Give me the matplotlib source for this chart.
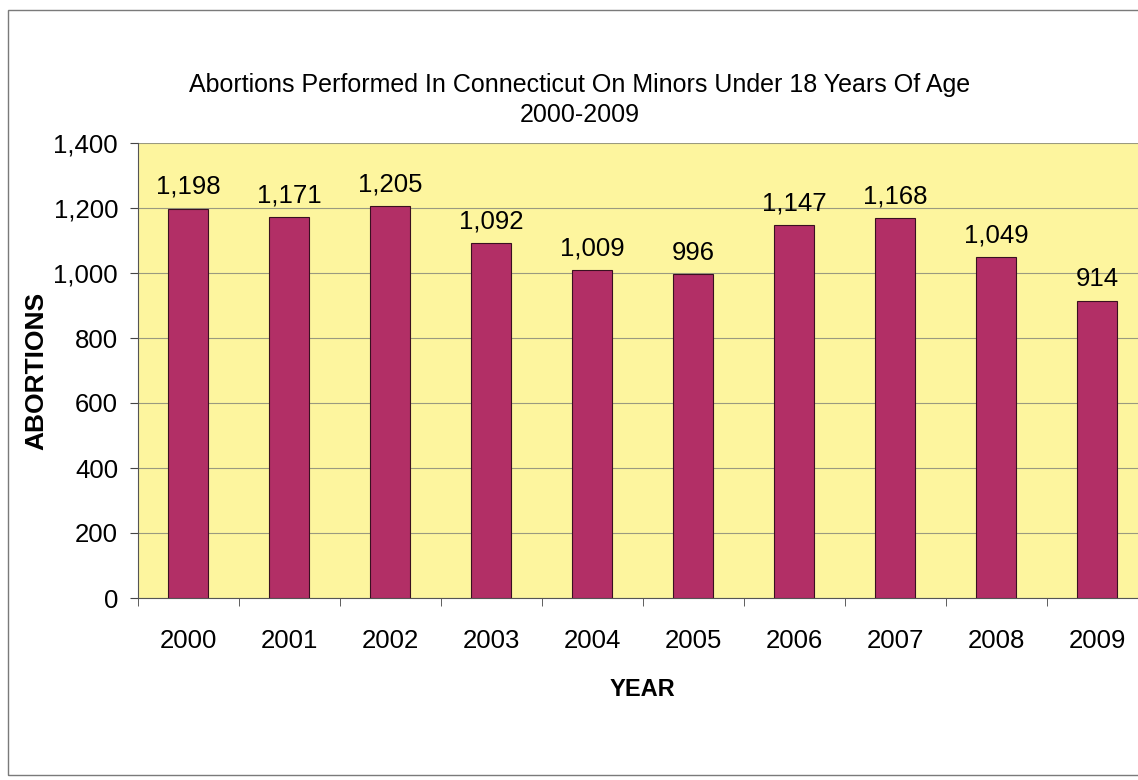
import matplotlib
matplotlib.use("Agg")
from matplotlib import pyplot as plt
from matplotlib.patches import Rectangle

years = ['2000', '2001', '2002', '2003', '2004', '2005', '2006', '2007', '2008', '2009']
abortions = [1198, 1171, 1205, 1092, 1009, 996, 1147, 1168, 1049, 914]
y_ticks = [0, 200, 400, 600, 800, 1000, 1200, 1400]

plt.rcParams['font.family'] = ['Liberation Sans', 'DejaVu Sans']

fig = plt.figure(figsize=(11.38, 7.80), dpi=100)
fig.patch.set_facecolor('white')

# outer frame of the chart object
fig.add_artist(Rectangle((8 / 1138, 5 / 780), 1.2, 765 / 780, transform=fig.transFigure,
                         fill=False, edgecolor='#7a7a7a', linewidth=1.0))

ax = fig.add_axes([137.5 / 1138, 182 / 780, 1010 / 1138, 455 / 780])
ax.set_facecolor('#fdf59e')

x = list(range(len(years)))
bars = ax.bar(x, abortions, width=0.4, color='#b22f66', edgecolor='#3a1020', linewidth=0.8, zorder=3)

for xi, v in zip(x, abortions):
    ax.annotate(f'{v:,}', (xi, v), xytext=(0, 7), textcoords='offset points',
                ha='center', va='bottom', fontsize=18.5)

ax.set_xlim(-0.5, len(years) - 0.5)
ax.set_ylim(0, 1400)
ax.set_yticks(y_ticks)
ax.set_yticklabels([f'{t:,}' for t in y_ticks], fontsize=18.5)
ax.yaxis.grid(True, color='#9a9a80', linewidth=0.8, zorder=1)

ax.set_xticks(x)
ax.set_xticklabels(years, fontsize=18.5)
ax.set_xticks([i - 0.5 for i in range(len(years) + 1)], minor=True)
ax.tick_params(axis='x', which='major', length=0, pad=22)
ax.tick_params(axis='x', which='minor', length=6, color='#444444')
ax.tick_params(axis='y', length=6, color='#444444', pad=8)

for s in ['top', 'right']:
    ax.spines[s].set_visible(False)
ax.spines['left'].set_color('#555555')
ax.spines['bottom'].set_color('#555555')

ax.set_ylabel('ABORTIONS', fontsize=19, fontweight='bold', labelpad=4)
ax.set_xlabel('YEAR', fontsize=17, fontweight='bold', labelpad=18)

fig.text(580 / 1138, 1 - 85 / 780, 'Abortions Performed In Connecticut On Minors Under 18 Years Of Age',
         ha='center', va='center', fontsize=18)
fig.text(580 / 1138, 1 - 115 / 780, '2000-2009', ha='center', va='center', fontsize=18)

fig.savefig('out.png', dpi=100, facecolor='white')
